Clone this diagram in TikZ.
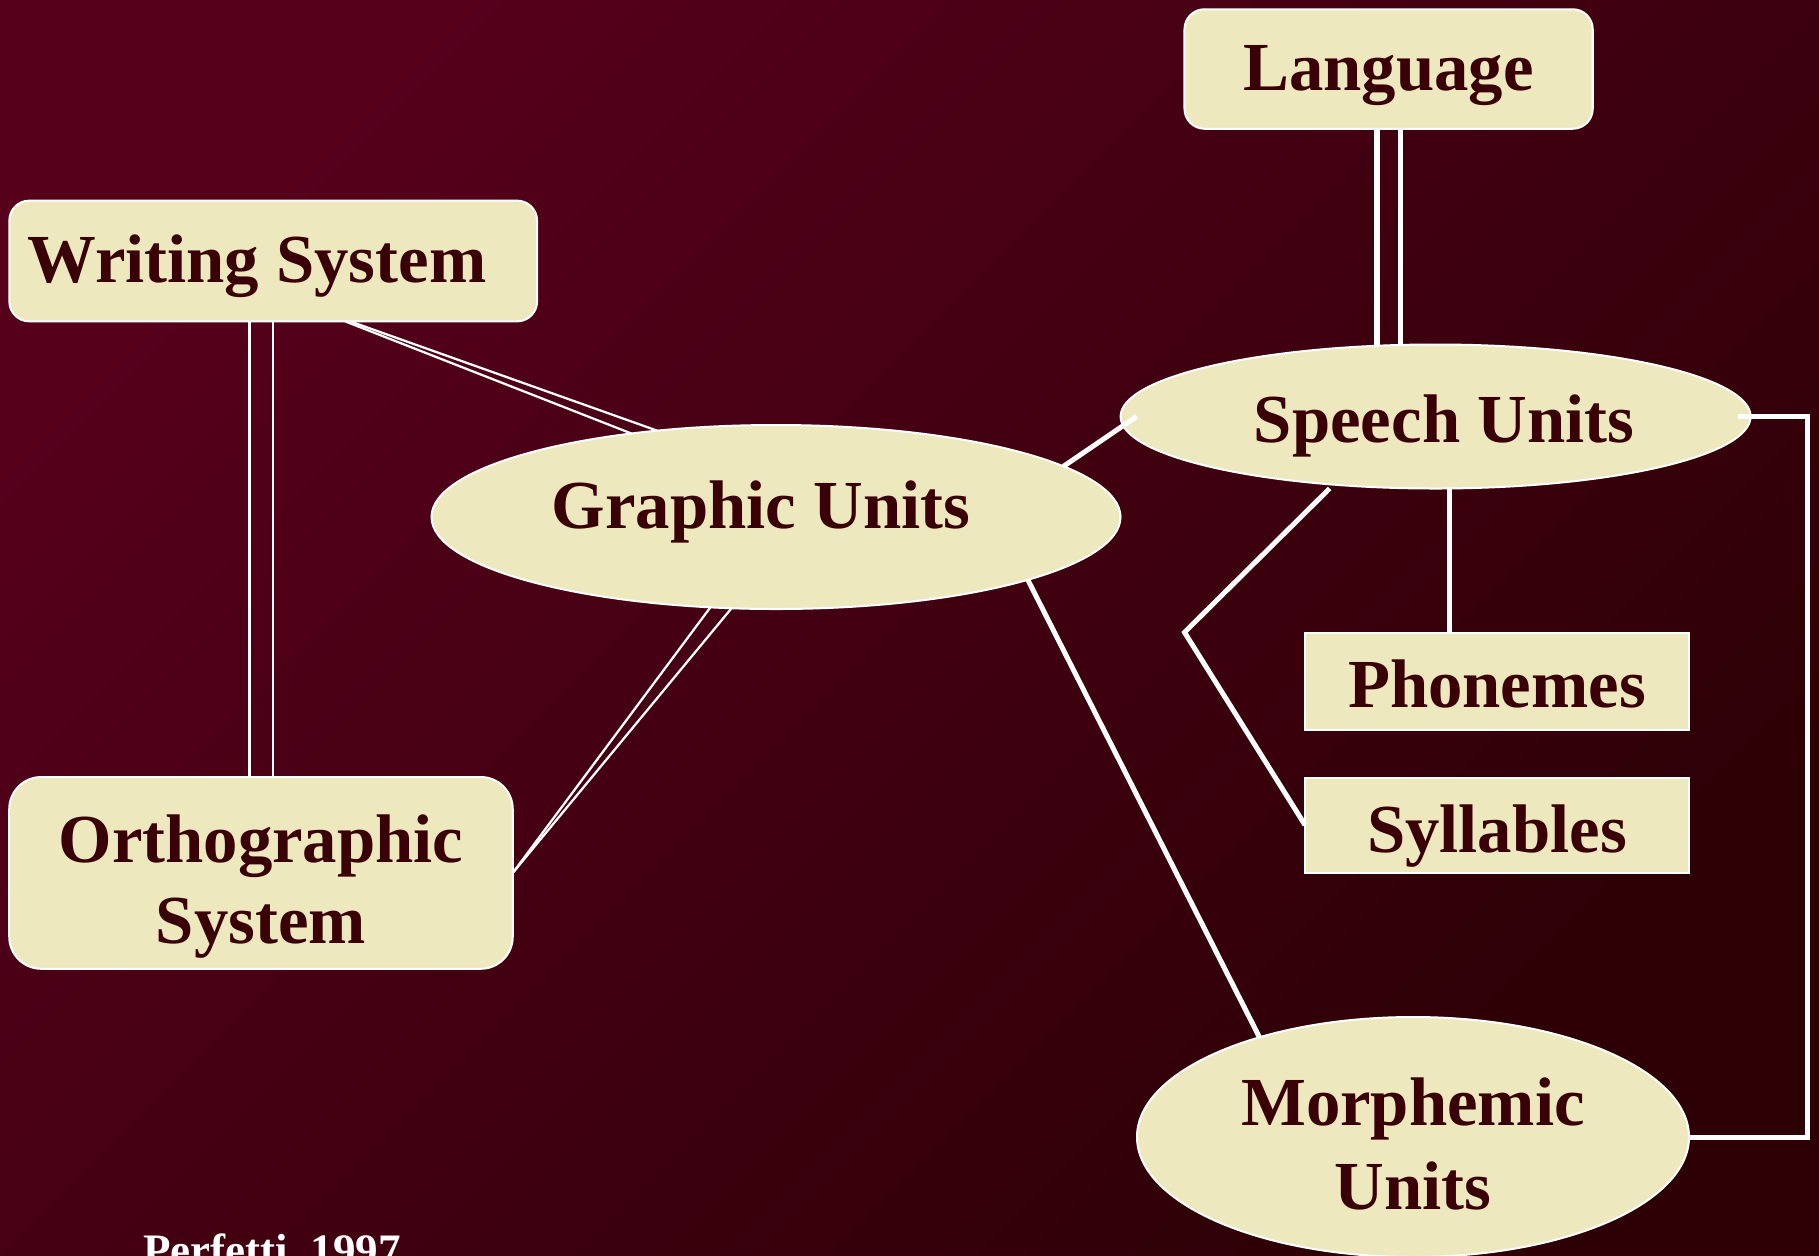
\documentclass[tikz,border=0pt]{standalone}
\usepackage{fontspec}
\setmainfont{Liberation Serif}
\usetikzlibrary{calc,shapes.geometric}
\definecolor{bgA}{RGB}{86,0,28}
\definecolor{bgB}{RGB}{44,0,5}
\definecolor{cream}{RGB}{238,232,190}
\definecolor{ink}{RGB}{58,0,8}
\begin{document}
\begin{tikzpicture}[x=0.4pt,y=-0.4pt,
  box/.style={draw=white, line width=0.8pt, fill=cream, inner sep=0pt, outer sep=0pt},
  rbox/.style={box, rectangle, rounded corners=#1},
  sbox/.style={box, rectangle},
  ebox/.style={box, ellipse},
  lbl/.style={text=ink, font=\fontsize{27.5}{33}\selectfont\bfseries, inner sep=0pt, anchor=base},
  thinlink/.style={draw=white, line width=0.9pt},
  thicklink/.style={draw=white, line width=2pt},
  langlink/.style={draw=white, line width=2.2pt},
]
\useasboundingbox (0,0) rectangle (1819,1255);
\shade[top color=bgA, bottom color=bgB, shading angle=45] (0,0) rectangle (1819,1255);

% shapes
\node[rbox=8pt, minimum width=163.3pt, minimum height=47.8pt] (lang) at (1388.6,69) {};
\node[rbox=8pt, minimum width=211.1pt, minimum height=48.3pt] (ws) at (273.2,261) {};
\node[rbox=12.8pt, minimum width=201.4pt, minimum height=76.7pt] (ortho) at (261,872.9) {};
\node[ebox, minimum width=252pt, minimum height=57.6pt] (su) at (1435.6,416.5) {};
\node[ebox, minimum width=275.6pt, minimum height=73.6pt] (gu) at (776,517) {};
\node[ebox, minimum width=220.8pt, minimum height=96pt] (morph) at (1413,1137) {};
\node[sbox, minimum width=153.6pt, minimum height=38.5pt] (phon) at (1497,681.5) {};
\node[sbox, minimum width=153.6pt, minimum height=38pt] (syl) at (1497,825) {};

% connectors
\coordinate (la1) at ($(lang.south)+(-11.4,0)$);
\coordinate (la2) at ($(lang.south)+(12.1,0)$);
\draw[langlink] (la1) -- (la1 |- su.north);
\draw[langlink] (la2) -- (la2 |- su.north);

\coordinate (wo1) at ($(ws.south)+(-23.7,0)$);
\coordinate (wo2) at ($(ws.south)+(-0.4,0)$);
\draw[thinlink] (wo1) -- (wo1 |- ortho.north);
\draw[thinlink] (wo2) -- (wo2 |- ortho.north);

\draw[thinlink] ($(ws.south)+(72,0)$) -- (gu.150.6);
\draw[thinlink] ($(ws.south)+(77,0)$) -- (gu.144.4);

\draw[thinlink] (gu.234.7) -- (ortho.east);
\draw[thinlink] (gu.244.8) -- (ortho.east);

\draw[thicklink] (gu.10.9) -- ($(su.west)+(16,0)$);
\draw[thicklink] (gu.-14.1) -- (morph.147.8);

\coordinate (sp) at ($(su.south)+(13.4,0)$);
\draw[thicklink] (sp) -- (sp |- phon.north);

\coordinate (bend) at (1184.5,632.3);
\draw[thicklink] ($(su.south)+(-106,0)$) -- (bend) -- (syl.west);

\draw[thicklink] ($(su.east)+(-12.6,0)$) -- ($(su.east)+(56.4,0)$) |- (morph.east);

% labels
\node[lbl] (lang-t) at (1388.6,90.5) {Language};
\node[lbl] (ws-t) at (257,282) {Writing System};
\node[lbl] (su-t) at (1444,442) {Speech Units};
\node[lbl] (gu-t) at (761,528) {Graphic Units};
\node[lbl] (phon-t) at (1497,707.6) {Phonemes};
\node[lbl] (syl-t) at (1497,852.7) {Syllables};
\node[lbl] (ortho-t1) at (261,862) {Orthographic};
\node[lbl] (ortho-t2) at (261,943) {System};
\node[lbl] (morph-t1) at (1413,1125) {Morphemic};
\node[lbl] (morph-t2) at (1413,1209) {Units};
\node[anchor=base west, inner sep=0pt, text=white, font=\fontsize{18}{22}\selectfont\bfseries] (cite) at (143,1265) {Perfetti, 1997};
\end{tikzpicture}
\end{document}
